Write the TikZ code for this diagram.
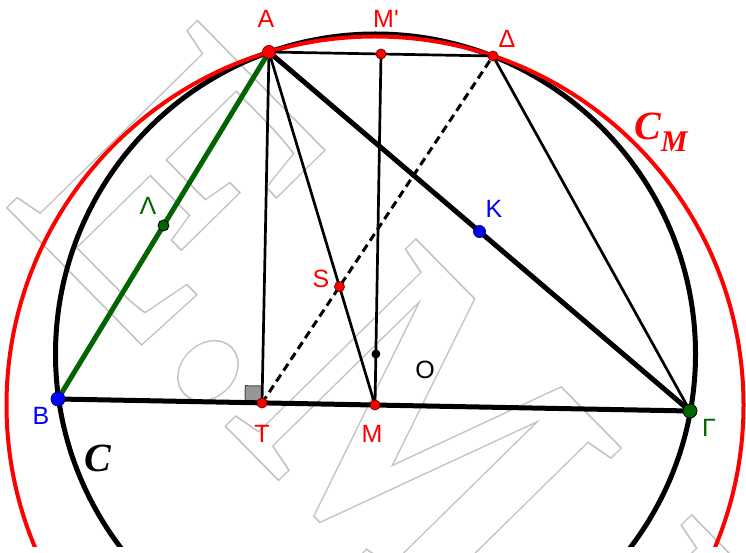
\documentclass[tikz,border=0pt]{standalone}
\usepackage{fontspec}
\setmainfont{Liberation Serif}
\newfontfamily\labfont{Liberation Sans}
\newfontfamily\wmfont{Liberation Serif}
\definecolor{ggred}{RGB}{255,0,0}
\definecolor{ggblue}{RGB}{0,0,255}
\definecolor{gggreen}{RGB}{0,100,0}
\definecolor{markgrey}{RGB}{150,150,150}
\definecolor{wmgrey}{RGB}{195,195,195}
\newcommand{\outl}[1]{\special{pdf:literal direct 1 Tr 1.6 w}#1\special{pdf:literal direct 0 Tr}}
\tikzset{
  thickline/.style={line width=5pt, black},
  thinline/.style={line width=2.7pt, black},
  dashline/.style={line width=3pt, black, dash pattern=on 8pt off 5pt},
  dotbase/.style={circle, inner sep=0pt, line width=0.8pt},
  bigred/.style={dotbase, fill=ggred, draw=red!50!black, minimum size=13pt},
  smallred/.style={dotbase, fill=ggred, draw=red!50!black, minimum size=10pt},
  bigblue/.style={dotbase, fill=ggblue, draw=blue!50!black, minimum size=14pt},
  midblue/.style={dotbase, fill=ggblue, draw=blue!50!black, minimum size=12pt},
  biggreen/.style={dotbase, fill=gggreen, draw=black, minimum size=14pt},
  midgreen/.style={dotbase, fill=gggreen, draw=black, minimum size=11pt},
  blackdot/.style={dotbase, fill=black, draw=black, minimum size=8pt},
  lab/.style={font=\labfont\fontsize{25}{25}\selectfont, inner sep=0pt},
  curvelab/.style={font=\bfseries\itshape\fontsize{40}{40}\selectfont, inner sep=0pt},
  wm/.style={font=\wmfont\bfseries\fontsize{408}{408}\selectfont, text=wmgrey, inner sep=0pt, anchor=base west, rotate=-45.5, xscale=0.8},
}
\begin{document}
\begin{tikzpicture}[x=1pt,y=-1pt]
\useasboundingbox (0,0) rectangle (746,553);
\fill[white] (0,0) rectangle (746,553);
% watermark
\node[wm] (w1) at (2.8,203.6) {\outl{E}};
\node[wm] (w2) at (159.8,360.6) {\outl{.}};
\node[wm] (w3) at (221.3,422.1) {\outl{M}};
\node[wm] (w4) at (439,640) {\outl{.}};
\node[wm] (w5) at (497,698) {\outl{E}};
\begin{scope}
\clip (0,0) rectangle (746,546);
% geometry
\coordinate (A) at (269,52);
\coordinate (Mp) at (381,54);
\coordinate (D) at (493,56);
\coordinate (B) at (58,399);
\coordinate (T) at (262,403);
\coordinate (M) at (375,405);
\coordinate (G) at (690,411);
\coordinate (K) at (479.5,231.5);
\coordinate (L) at (163.5,225.5);
\coordinate (S) at (339.5,286.6);
\coordinate (O) at (375.9,354);
% circles
\draw[line width=5pt, black] (375.5,354) circle[radius=320pt];
\draw[line width=4pt, ggred] (M) circle[radius=368.5pt];
% right angle mark
\filldraw[fill=markgrey, draw=black!70, line width=1pt] (T) -- (245,402.7) -- (245.3,385.7) -- (262.3,386) -- cycle;
% lines
\draw[thinline] (A) -- (D);
\draw[thinline] (A) -- (T);
\draw[thinline] (A) -- (M);
\draw[thinline] (Mp) -- (M);
\draw[thinline] (D) -- (G);
\draw[dashline] (T) -- (D);
\draw[thickline] (B) -- (G);
\draw[thickline] (A) -- (G);
\draw[line width=5pt, gggreen] (A) -- (B);
\end{scope}
% points
\node[blackdot] (dO) at (O) {};
\node[smallred] (dS) at (S) {};
\node[smallred] (dT) at (T) {};
\node[smallred] (dM) at (M) {};
\node[smallred] (dMp) at (Mp) {};
\node[smallred] (dD) at (D) {};
\node[midblue] (dK) at (K) {};
\node[midgreen] (dL) at (L) {};
\node[bigblue] (dB) at (B) {};
\node[biggreen] (dG) at (G) {};
\node[bigred] (dA) at (A) {};
% labels
\node[lab, text=ggred] (lA) at (266,19) {A};
\node[lab, text=ggred] (lMp) at (386,19) {M'};
\node[lab, text=ggred] (lD) at (507,39) {Δ};
\node[lab, text=ggblue] (lK) at (494,209) {K};
\node[lab, text=gggreen] (lL) at (148,206) {Λ};
\node[lab, text=ggred] (lS) at (321,279) {S};
\node[lab, text=black] (lO) at (425,370) {O};
\node[lab, text=ggblue] (lB) at (41,416) {B};
\node[lab, text=ggred] (lT) at (262,434) {T};
\node[lab, text=ggred] (lM) at (372,434) {M};
\node[lab, text=gggreen] (lG) at (709,428) {Γ};
\node[curvelab, text=black] (lC) at (98,458) {C};
\node[curvelab, text=ggred, anchor=base west] (lCM) at (634,140) {C\textsubscript{\fontsize{30}{30}\selectfont M}};
\end{tikzpicture}
\end{document}
